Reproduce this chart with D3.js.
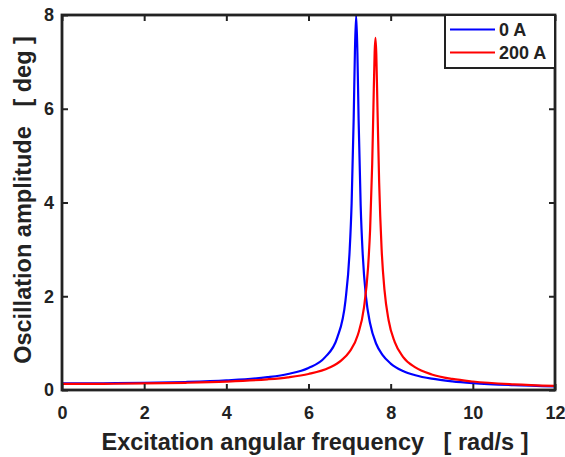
<!DOCTYPE html>
<html><head><meta charset="utf-8">
<script src="https://cdn.jsdelivr.net/npm/d3@7"></script>
<style>body{margin:0;background:#fff}svg{display:block}</style>
</head><body>
<script>
const xTicks = [0, 2, 4, 6, 8, 10, 12];
const yTicks = [0, 2, 4, 6, 8];
const seriesNames = ["0 A", "200 A"];
const seriesColors = ["#0000ff", "#ff0000"];
const freq0A = [0,1,2,3,4,5,5.5,6,6.4,6.7,6.9,7.0,7.05,7.1,7.13,7.16,7.19,7.22,7.27,7.32,7.4,7.5,7.65,7.8,8,8.3,8.6,9,9.5,10,11,12];
const amp0A  = [0.140,0.143,0.152,0.170,0.204,0.273,0.342,0.470,0.696,1.116,1.908,2.948,3.987,5.80,7.22,8.0,7.20,5.76,3.93,2.89,1.98,1.417,0.981,0.748,0.564,0.407,0.316,0.241,0.184,0.147,0.103,0.077];
const freq200A = [0,1,2,3,4,5,5.5,6,6.5,6.8,7.0,7.2,7.35,7.45,7.5,7.55,7.58,7.61,7.63,7.65,7.68,7.72,7.78,7.85,7.95,8.1,8.3,8.6,9,9.5,10,11,12];
const amp200A  = [0.130,0.132,0.140,0.154,0.179,0.228,0.271,0.341,0.474,0.632,0.817,1.173,1.757,2.618,3.43,4.81,6.02,7.20,7.51,7.18,5.97,4.42,3.00,2.129,1.487,1.021,0.709,0.481,0.332,0.236,0.181,0.121,0.088];

const W = 565, H = 457;
const L = 62, R = 555, T = 15, B = 390;
const svg = d3.select("body").append("svg").attr("width", W).attr("height", H);
const x = d3.scaleLinear().domain([0, 12]).range([L, R]);
const y = d3.scaleLinear().domain([0, 8]).range([B, T]);
const font = "'Liberation Sans', Arial, sans-serif";
const ink = "#222222";

svg.append("defs").append("clipPath").attr("id", "clip")
  .append("rect").attr("x", L).attr("y", T).attr("width", R - L).attr("height", B - T);

const series = [
  {name: seriesNames[0], color: seriesColors[0], xs: freq0A, ys: amp0A},
  {name: seriesNames[1], color: seriesColors[1], xs: freq200A, ys: amp200A}
];
const line = d3.line().x(d => x(d[0])).y(d => y(d[1])).curve(d3.curveMonotoneX);
const g = svg.append("g").attr("clip-path", "url(#clip)");
series.forEach(s => {
  g.append("path").datum(s.xs.map((v, i) => [v, s.ys[i]]))
    .attr("d", line).attr("fill", "none").attr("stroke", s.color).attr("stroke-width", 2.2);
});

// axes
const ax = (gen, tr) => {
  const a = svg.append("g").attr("transform", tr).call(gen);
  a.select(".domain").remove();
  a.selectAll(".tick line").attr("stroke", ink).attr("stroke-width", 2);
  a.selectAll("text").attr("font-family", font).attr("font-weight", "bold").attr("font-size", 18).attr("fill", ink);
  return a;
};
ax(d3.axisBottom(x).tickValues(xTicks).tickSize(-6).tickPadding(16), `translate(0,${B})`);
ax(d3.axisTop(x).tickValues(xTicks).tickSize(-6).tickFormat(""), `translate(0,${T})`);
ax(d3.axisLeft(y).tickValues(yTicks).tickSize(-6).tickPadding(8), `translate(${L},0)`);
ax(d3.axisRight(y).tickValues(yTicks).tickSize(-6).tickFormat(""), `translate(${R},0)`);

svg.append("rect").attr("x", L).attr("y", T).attr("width", R - L).attr("height", B - T)
  .attr("fill", "none").attr("stroke", ink).attr("stroke-width", 2.8);

// labels
svg.append("text").attr("x", 315).attr("y", 450).attr("text-anchor", "middle")
  .attr("font-family", font).attr("font-weight", "bold").attr("font-size", 23.5).attr("fill", ink)
  .style("white-space", "pre")
  .text("Excitation angular frequency   [ rad/s ]");
svg.append("text").attr("transform", `translate(31,${200}) rotate(-90)`).attr("text-anchor", "middle")
  .attr("font-family", font).attr("font-weight", "bold").attr("font-size", 23.5).attr("fill", ink)
  .style("white-space", "pre")
  .text("Oscillation amplitude   [ deg ]");

// legend
const lg = svg.append("g");
lg.append("rect").attr("x", 445).attr("y", 15).attr("width", 110).attr("height", 53)
  .attr("fill", "#fff").attr("stroke", ink).attr("stroke-width", 2);
series.forEach((s, i) => {
  const yy = 29.5 + i * 23;
  lg.append("line").attr("x1", 450).attr("x2", 495).attr("y1", yy).attr("y2", yy)
    .attr("stroke", s.color).attr("stroke-width", 2);
  lg.append("text").attr("x", 499).attr("y", yy + 6.5).attr("font-family", font).attr("font-weight", "bold")
    .attr("font-size", 18).attr("fill", ink).text(s.name);
});
</script>
</body></html>
